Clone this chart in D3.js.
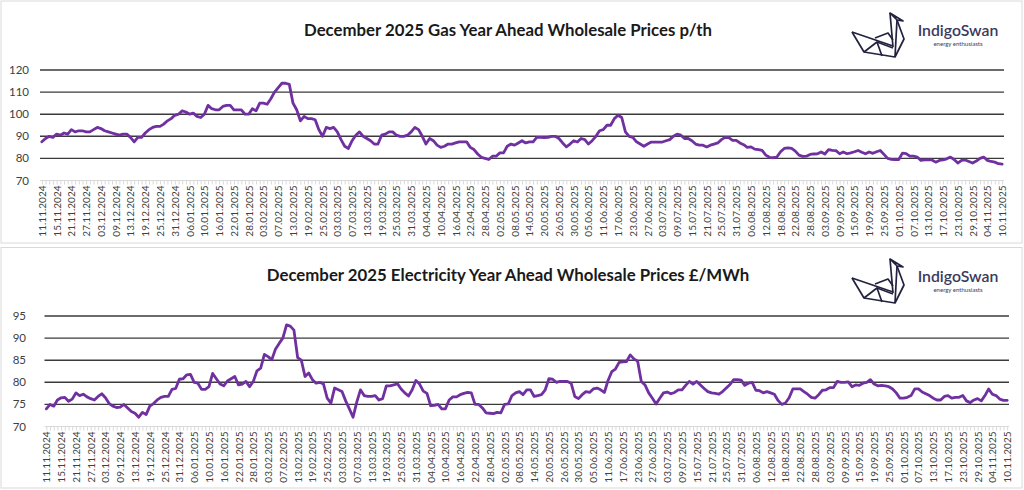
<!DOCTYPE html>
<html><head><meta charset="utf-8">
<script src="https://cdn.jsdelivr.net/npm/d3@7"></script>
<style>html,body{margin:0;padding:0;background:#fff;} svg{display:block;font-family:Lato,"Open Sans",sans-serif;}</style>
</head><body><svg id="c" width="1024" height="490"></svg>
<script>
const tickLabels = ["11.11.2024","15.11.2024","21.11.2024","27.11.2024","03.12.2024","09.12.2024","13.12.2024","19.12.2024","25.12.2024","31.12.2024","06.01.2025","10.01.2025","16.01.2025","22.01.2025","28.01.2025","03.02.2025","07.02.2025","13.02.2025","19.02.2025","25.02.2025","03.03.2025","07.03.2025","13.03.2025","19.03.2025","25.03.2025","31.03.2025","04.04.2025","10.04.2025","16.04.2025","22.04.2025","28.04.2025","02.05.2025","08.05.2025","14.05.2025","20.05.2025","26.05.2025","30.05.2025","05.06.2025","11.06.2025","17.06.2025","23.06.2025","27.06.2025","03.07.2025","09.07.2025","15.07.2025","21.07.2025","25.07.2025","31.07.2025","06.08.2025","12.08.2025","18.08.2025","22.08.2025","28.08.2025","03.09.2025","09.09.2025","15.09.2025","19.09.2025","25.09.2025","01.10.2025","07.10.2025","13.10.2025","17.10.2025","23.10.2025","29.10.2025","04.11.2025","10.11.2025"];

const gasValues = [
87.5,89,90,89.5, 91,90.5,91.5,91, 93,92,92.5,92.5, 92,92,93,94, 93.5,92.5,92,91.5,
91,90.5,91,91, 89.5,87.5,89.5,89.5, 91.5,93,94,94.5, 94.5,95.5,97,98, 99.5,100,101.5,101,
100,100.5,99,98.5, 100,104,102.5,102, 102,103.5,104,104, 102,102,102,100, 100,102.5,101.5,105,
105,104.5,107,110, 112,114,114,113.5, 105,102,97,99, 98,98,97.5,93, 90,94,93.5,94,
92,88.5,85.5,84.5, 88,90.5,92,90, 89,88,86.5,86.5, 90.5,91,92,92, 90.5,90,90,90.5,
92,94,93,90, 86.5,89,88,86, 85,85.5,86.5,86.5, 87,87.5,87.5,87.5, 85,84,82,80.5,
80,79.5,81,81, 82.5,82.5,85.5,86.5, 86,87,88,87, 87.5,87.5,89.5,89.5, 89.4,89.5,90,90,
89,87,85.2,86.5, 88,87.4,89,88.5, 86.5,88,90,92.5, 93,95,95,98, 99.5,98.5,92,90,
89.5,87.5,86.5,85.5, 86.5,87.4,87.4,87.4, 87.4,88,88.5,90, 91,90.5,89,89, 88,86.5,86,86,
85.2,86,86.5,87, 88.5,89.5,89.4,88.2, 88.2,87,86.2,85, 85.2,84.2,84,83.6, 81.5,80.5,80.3,80.6,
83,84.5,84.8,84.5, 83.3,81.5,80.9,81, 81.8,82,82.1,82.9, 82,84,83.6,83.5, 82.1,82.9,82.1,82.5,
83,83.6,82.8,82.1, 82.9,82.3,83,83.6, 81.8,80,79.6,79.4, 79.5,82.4,82.2,81, 81,80.6,79.1,79.3,
79.3,79.3,78.3,79.1, 79.3,79.8,80.6,79.5, 77.9,79.1,79.3,78.6, 77.9,78.8,80,80.6, 79.1,78.6,78.3,77.6,
77.4];

const elecValues = [
74,75,74.6,76, 76.5,76.6,75.7,76.2, 77.6,77,77.3,76.7, 76.3,76,76.8,77.4, 76.5,75.2,74.6,74.3,
74.4,75,74.2,73.4, 73,72.1,73.2,72.7, 74.6,75.2,76,76.6, 76.8,76.8,78.4,78.6, 80.7,80.8,81.7,81.8,
80,79.8,78.4,78.4, 79,82,80.8,79.6, 79.2,80.3,80.8,81.3, 79.4,79.6,80.2,79, 80.2,82.6,83.2,86.3,
85.8,85.1,87.5,88.8, 90,93,92.7,91.8, 85.6,85,81.3,82.1, 80.6,79.8,80,79.6, 76.4,75.3,78.7,78.3,
77.9,75.8,74,72.1, 75.5,78.3,77,76.8, 76.8,77,76,76.3, 79.2,79.2,79.4,79.7, 78.5,77.6,76.9,78.3,
80.4,79.6,78,77.5, 74.7,74.8,75,74, 74,76,76.7,76.7, 77.2,77.5,77.7,77.6, 75,75,74.2,73.1,
73,72.9,73.2,73.1, 75,75.1,77,77.6, 77.9,77.2,78.3,78.3, 76.8,77,77.2,78.3, 80.8,80.7,80,80.2,
80.2,80.2,79.8,76.8, 76.3,77.2,77.9,77.7, 78.5,78.7,78.3,77.7, 80.4,82.4,83,84.5, 84.6,84.7,86.2,85.3,
84.8,80.2,79.4,77.6, 76.4,75.1,76.4,77.6, 77.8,77.4,77.7,78.3, 78.3,79.3,80.2,79.6, 80.2,79.4,78.6,77.9,
77.6,77.5,77.3,77.9, 78.7,79.5,80.6,80.6, 80.5,79.3,79.8,80, 78.2,78.1,77.6,77.9, 77.6,77.3,75.9,75,
75.3,76.5,78.5,78.5, 78.5,77.9,77.3,76.6, 76.4,77.2,78.2,78.3, 78.8,78.8,80.2,80, 80,80.1,79,79.4,
79.3,79.8,80,80.6, 79.6,79.2,79.3,79.2, 79,78.5,77.6,76.4, 76.4,76.6,77,78.5, 78.5,77.8,77.4,77,
76.4,76,76,76.8, 77,76.4,76.6,76.6, 77,75.8,75.4,76, 76.3,75.8,77,78.5, 77.3,77,76.2,75.9,
75.9];

const gasTicks = [70,80,90,100,110,120];
const elecTicks = [70,75,80,85,90,95];
const gasTitle = "December 2025 Gas Year Ahead Wholesale Prices p/th";
const elecTitle = "December 2025 Electricity Year Ahead Wholesale Prices £/MWh";

// categories: trading (week) days starting 11.11.2024
const fmt = d3.utcFormat("%d.%m.%Y");
const categories = [];
{
  const d = new Date(Date.UTC(2024, 10, 11));
  while (categories.length < gasValues.length) {
    const wd = d.getUTCDay();
    if (wd !== 0 && wd !== 6) categories.push(fmt(d));
    d.setUTCDate(d.getUTCDate() + 1);
  }
}
const labelSet = new Set(tickLabels);

const svg = d3.select("#c");

const panels = [
  {box:[1,1,1021,242], title:gasTitle, titleY:36, x0:40, x1:1004, yTop:70, yBot:180.5,
   ticks:gasTicks, values:gasValues, yLabX:29, dy:0},
  {box:[1,247.5,1021,240.5], title:elecTitle, titleY:281, x0:44.5, x1:1009, yTop:316, yBot:426.5,
   ticks:elecTicks, values:elecValues, yLabX:26, dy:246}
];

function drawLogo(g, dy) {
  const lg = g.append("g").attr("transform", `translate(0,${dy})`);
  const paths = [
    "M852,32 L864,52 L895,57 L904,39 L897,20",
    "M890,13 L903,21 L897,20 Z",
    "M890,13 L893,47",
    "M897,20 L895,57",
    "M852,32 L893,46",
    "M875,38 L888,33 L893,40",
    "M864,52 L877,42 L882,56",
    "M877,42 L893,48"
  ];
  lg.selectAll("path").data(paths).join("path")
    .attr("d", d => d).attr("fill", "none").attr("stroke", "#22223f")
    .attr("stroke-width", 1.7).attr("stroke-linejoin", "round");
  lg.append("text").attr("x", 958).attr("y", 36).attr("text-anchor", "middle")
    .attr("font-size", 15.8).attr("font-weight", 600).attr("fill", "#3a3a5c").text("IndigoSwan");
  lg.append("text").attr("x", 958).attr("y", 45.5).attr("text-anchor", "middle")
    .attr("font-size", 6).attr("fill", "#3a3a5c").text("energy enthusiasts");
}

panels.forEach(p => {
  const g = svg.append("g");
  g.append("rect").attr("x", p.box[0]).attr("y", p.box[1]).attr("width", p.box[2]).attr("height", p.box[3])
    .attr("fill", "#fff").attr("stroke", "#d9d9d9").attr("stroke-width", 1);

  g.append("text").attr("x", 508).attr("y", p.titleY).attr("text-anchor", "middle")
    .attr("font-size", 16.8).attr("font-weight", 700).attr("fill", "#1a1a1a").text(p.title);

  drawLogo(g, p.dy);

  const x = d3.scalePoint().domain(categories).range([p.x0, p.x1]).padding(0.5);
  const y = d3.scaleLinear().domain([p.ticks[0], p.ticks[p.ticks.length - 1]]).range([p.yBot, p.yTop]);

  // gridlines
  g.append("g").selectAll("line").data(p.ticks.slice(1)).join("line")
    .attr("x1", p.x0).attr("x2", p.x1).attr("y1", d => y(d)).attr("y2", d => y(d))
    .attr("stroke", "#3a3a3a").attr("stroke-width", 1.4);

  // y labels
  g.append("g").selectAll("text").data(p.ticks).join("text")
    .attr("x", p.yLabX).attr("y", d => y(d)).attr("dy", "0.35em").attr("text-anchor", "end")
    .attr("font-size", 11.5).attr("fill", "#404040").text(d => d);

  // x axis
  const ax = g.append("g").attr("transform", `translate(0,${p.yBot})`)
    .call(d3.axisBottom(x).tickValues(categories).tickSize(4).tickSizeOuter(0)
      .tickFormat(d => labelSet.has(d) ? d : ""));
  ax.select(".domain").attr("stroke", "#d9d9d9").attr("d", `M${p.x0},0H${p.x1}`);
  ax.selectAll(".tick line").attr("stroke", "#d9d9d9");
  ax.selectAll(".tick text")
    .attr("transform", "rotate(-90)").attr("x", -5).attr("y", 0).attr("dy", "0.35em")
    .attr("text-anchor", "end").attr("font-size", 10).attr("fill", "#404040")
    .attr("font-family", "Lato, 'Open Sans', sans-serif");

  // line
  const line = d3.line().x((d, i) => x(categories[i])).y(d => y(d));
  g.append("path").datum(p.values).attr("d", line).attr("fill", "none")
    .attr("stroke", "#7030a0").attr("stroke-width", 2.8)
    .attr("stroke-linejoin", "round").attr("stroke-linecap", "round");
});
</script></body></html>
